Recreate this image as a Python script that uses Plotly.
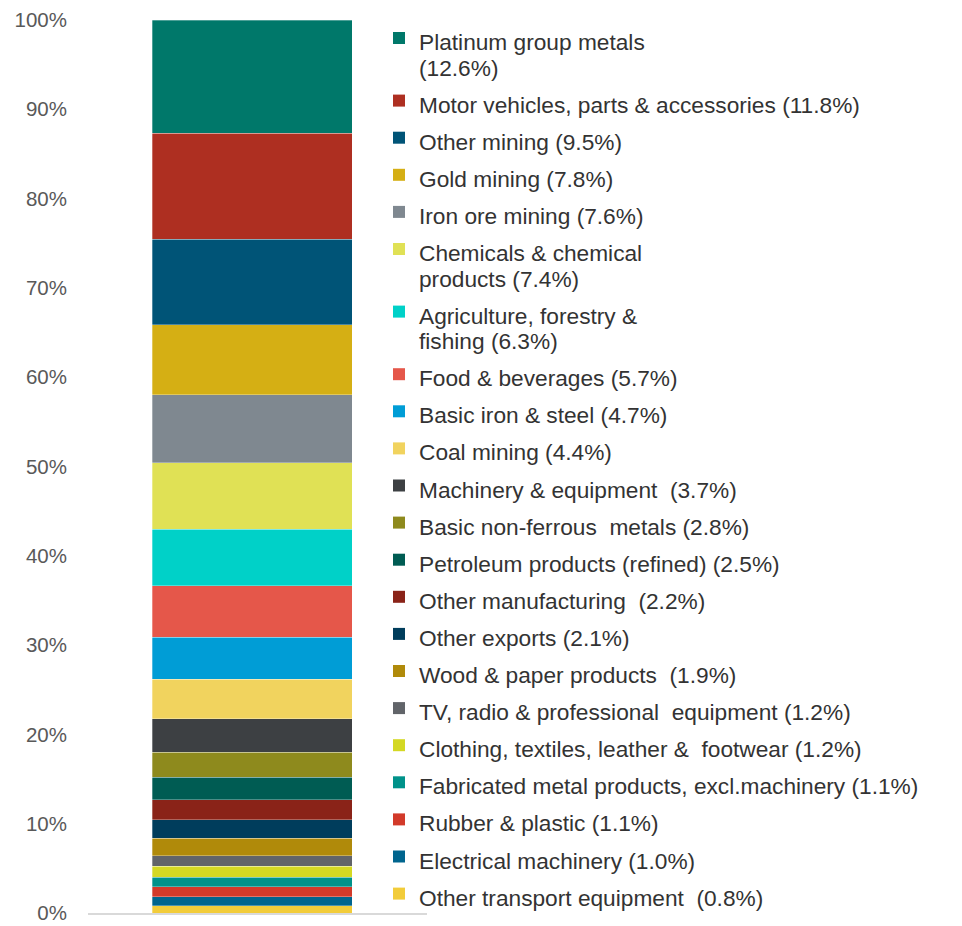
import plotly.graph_objects as go

# export categories, top of the stack first
categories = [
    "Platinum group metals\n",
    "Motor vehicles, parts & accessories",
    "Other mining",
    "Gold mining",
    "Iron ore mining",
    "Chemicals & chemical\nproducts",
    "Agriculture, forestry &\nfishing",
    "Food & beverages",
    "Basic iron & steel",
    "Coal mining",
    "Machinery & equipment\u00a0",
    "Basic non-ferrous\u00a0 metals",
    "Petroleum products (refined)",
    "Other manufacturing\u00a0",
    "Other exports",
    "Wood & paper products\u00a0",
    "TV, radio & professional\u00a0 equipment",
    "Clothing, textiles, leather &\u00a0 footwear",
    "Fabricated metal products, excl.machinery",
    "Rubber & plastic",
    "Electrical machinery",
    "Other transport equipment\u00a0",
]
shares = [12.6, 11.8, 9.5, 7.8, 7.6, 7.4, 6.3, 5.7, 4.7, 4.4, 3.7,
          2.8, 2.5, 2.2, 2.1, 1.9, 1.2, 1.2, 1.1, 1.1, 1.0, 0.8]
colors = ["#00786A", "#AE2F21", "#005477", "#D5AF14", "#7F8890", "#E0E155",
          "#00D1C8", "#E5574A", "#009DD6", "#F1D35E", "#3D4043", "#8E8A1D",
          "#005C53", "#8A2318", "#003D5C", "#B08A0A", "#616469", "#D4D823",
          "#00928A", "#D23A2A", "#00658E", "#F2CC3A"]
y_ticks = list(range(0, 101, 10))
y_ticktext = [f"{t}%" for t in y_ticks]

W, H = 962, 926
OFF = 8  # page body margin
FONT = "Arial, Liberation Sans, sans-serif"


def px(x):
    return (x - OFF) / W


def py(y):
    return 1 - (y - OFF) / H


fig = go.Figure()

# stack from the bottom: smallest category first
for name, v, c in reversed(list(zip(categories, shares, colors))):
    fig.add_trace(go.Bar(
        x=[0], y=[v], name=name.replace("\n", " ").strip(),
        marker=dict(color=c, line=dict(color="rgba(255,255,255,0.5)", width=0.6)),
        width=1, showlegend=False, hoverinfo="name+y",
    ))

# hand-built legend to the right of the bar
annotations = []
shapes = []
step, lh = 37.1, 25.5
y = 42
for name, v, c in zip(categories, shares, colors):
    sep = "" if name.endswith("\n") else " "
    label = f"{name}{sep}({v:.1f}%)"
    lines = label.split("\n")
    shapes.append(dict(
        type="rect", xref="paper", yref="paper",
        x0=px(393), x1=px(405), y0=py(y + 2), y1=py(y - 10),
        fillcolor=c, line=dict(width=0),
    ))
    for i, ln in enumerate(lines):
        annotations.append(dict(
            x=px(417), y=py(y + i * lh), xref="paper", yref="paper",
            text=ln, showarrow=False, xanchor="left", yanchor="middle",
            font=dict(family=FONT, size=22.7, color="#333333"),
        ))
    y += step + (len(lines) - 1) * lh

fig.update_layout(
    barmode="stack",
    barnorm="percent",
    width=W, height=H,
    margin=dict(l=0, r=0, t=0, b=0),
    plot_bgcolor="white",
    paper_bgcolor="white",
    annotations=annotations,
    shapes=shapes,
    xaxis=dict(
        domain=[px(88), px(427)],
        range=[-0.82, 0.875],
        showticklabels=False, showgrid=False, zeroline=False,
        showline=True, linecolor="#D9D9D9", linewidth=1.5,
        fixedrange=True, automargin=False,
    ),
    yaxis=dict(
        domain=[py(913), py(20)],
        range=[0, 100],
        tickmode="array", tickvals=y_ticks, ticktext=y_ticktext,
        showgrid=False, zeroline=False, showline=False,
        ticks="", ticklabelstandoff=20, automargin=False,
        tickfont=dict(family=FONT, size=20.5, color="#595959"),
    ),
)

fig.write_html("out.html")
